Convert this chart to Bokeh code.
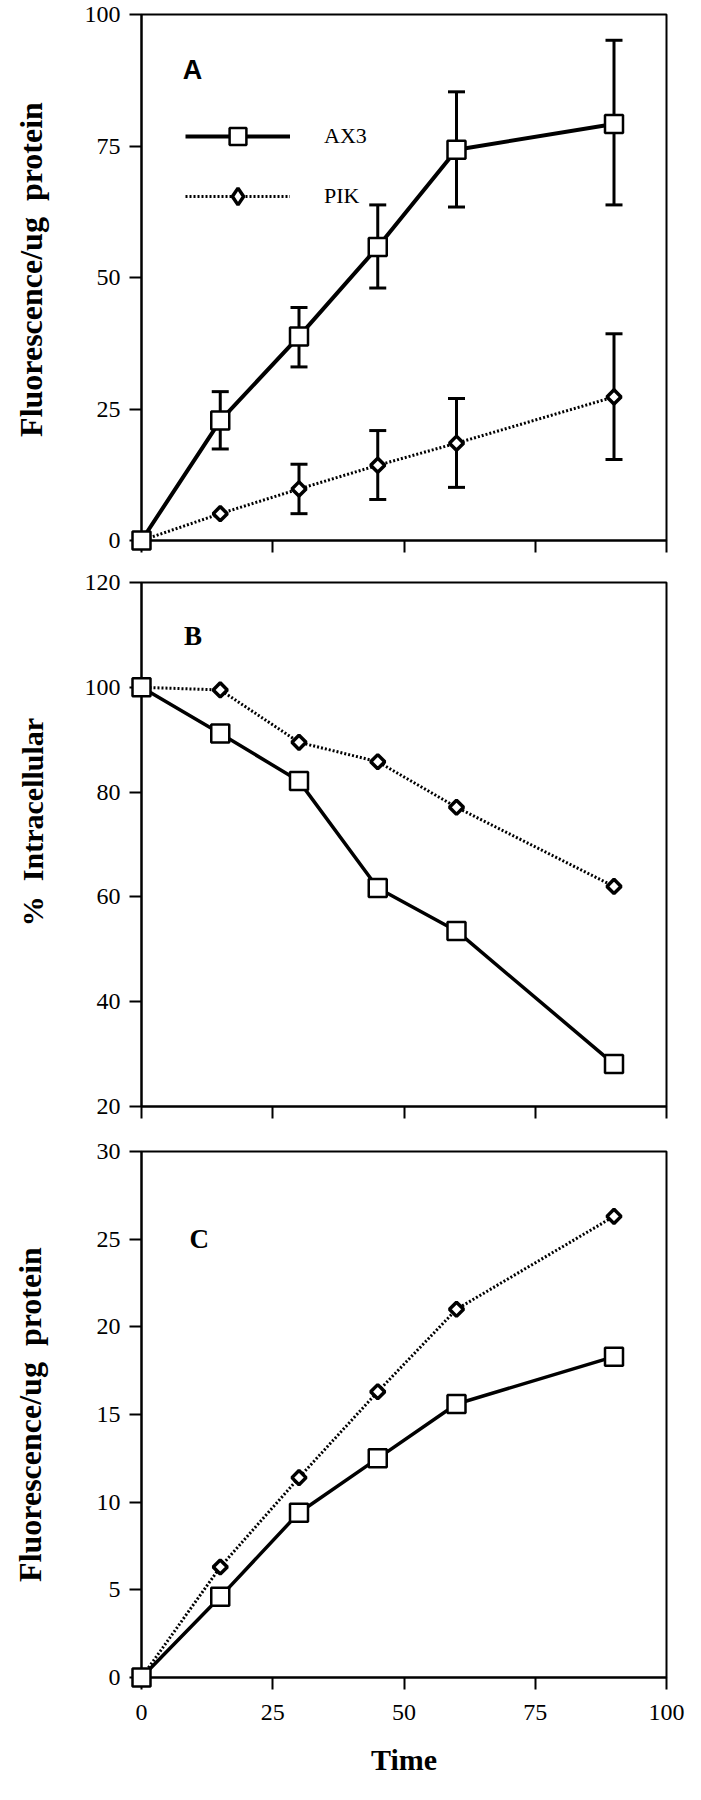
import math
from bokeh.plotting import figure
from bokeh.layouts import column
from bokeh.models import Legend, LegendItem, FixedTicker, Range1d, Label
from bokeh.embed import file_html
from bokeh.resources import INLINE

# ---------------- data ----------------
time = [0, 15, 30, 45, 60, 90]
x_ticks = [0, 25, 50, 75, 100]

# Panel A
a_ax3 = [0, 22.8, 38.8, 55.8, 74.3, 79.2]
a_ax3_lo = [0, 17.4, 33.0, 48.0, 63.4, 63.8]
a_ax3_hi = [0, 28.3, 44.3, 63.8, 85.3, 95.1]
a_pik = [0, 5.1, 9.8, 14.3, 18.5, 27.3]
a_pik_lo = [0, 5.1, 5.1, 7.8, 10.1, 15.4]
a_pik_hi = [0, 5.1, 14.5, 20.9, 27.0, 39.3]
a_yticks = [0, 25, 50, 75, 100]

# Panel B
b_ax3 = [100, 91.2, 82.1, 61.7, 53.5, 28.1]
b_pik = [100, 99.5, 89.5, 85.8, 77.1, 62.0]
b_yticks = [20, 40, 60, 80, 100, 120]

# Panel C
c_ax3 = [0, 4.6, 9.4, 12.5, 15.6, 18.3]
c_pik = [0, 6.3, 11.4, 16.3, 21.0, 26.3]
c_yticks = [0, 5, 10, 15, 20, 25, 30]

SERIF = "Liberation Serif"
SANS = "Liberation Sans"
NB = "\u00a0"


def make_fig(yr, yticks, fh, top, bottom, ylabel, label_size, label_standoff, show_x_labels):
    p = figure(frame_width=525, frame_height=fh,
               x_range=Range1d(0, 100), y_range=Range1d(*yr),
               output_backend="svg", toolbar_location=None,
               min_border_left=141, min_border_right=19,
               min_border_top=top, min_border_bottom=bottom)
    p.grid.visible = False
    p.outline_line_color = "black"
    p.outline_line_width = 2
    p.outline_line_alpha = 1
    p.background_fill_color = "white"
    for ax in (p.xaxis[0], p.yaxis[0]):
        ax.axis_line_width = 2
        ax.axis_line_color = "black"
        ax.major_tick_line_width = 2
        ax.major_tick_line_color = "black"
        ax.major_tick_out = 12
        ax.major_tick_in = 0
        ax.minor_tick_out = 0
        ax.minor_tick_in = 0
        ax.major_label_text_font = SERIF
        ax.major_label_text_font_size = "24px"
        ax.major_label_text_color = "black"
        ax.major_label_standoff = 9
        ax.axis_label_text_font = SERIF
        ax.axis_label_text_font_style = "bold"
        ax.axis_label_text_color = "black"
    p.xaxis.ticker = FixedTicker(ticks=x_ticks)
    p.yaxis.ticker = FixedTicker(ticks=yticks)
    p.yaxis.axis_label = ylabel
    p.yaxis.axis_label_text_font_size = label_size
    p.yaxis.axis_label_standoff = label_standoff
    if not show_x_labels:
        p.xaxis.major_label_overrides = {t: "" for t in x_ticks}
        p.xaxis.major_label_text_font_size = "0px"
        p.xaxis.major_label_standoff = 0
    return p


def draw_series(p, ax3, pik, ax3_width):
    lp = p.line(time, pik, line_color="black", line_width=3, line_dash="2 2", level="overlay")
    mp = p.scatter(time, pik, marker="square", angle=math.pi / 4, size=10,
                   fill_color="white", line_color="black", line_width=3.5, level="overlay")
    la = p.line(time, ax3, line_color="black", line_width=ax3_width, level="overlay")
    ma = p.scatter(time, ax3, marker="square", size=18,
                   fill_color="white", line_color="black", line_width=2.5, level="overlay")
    return la, ma, lp, mp


def draw_errors(p, lo, hi):
    xs = [t for t, l, h in zip(time, lo, hi) if h > l]
    los = [l for l, h in zip(lo, hi) if h > l]
    his = [h for l, h in zip(lo, hi) if h > l]
    p.segment(xs, los, xs, his, line_color="black", line_width=3, level="overlay")
    p.scatter(xs, los, marker="dash", size=17, line_color="black", line_width=3, level="overlay")
    p.scatter(xs, his, marker="dash", size=17, line_color="black", line_width=3, level="overlay")


# ---------------- Panel A ----------------
pa = make_fig((0, 100), a_yticks, 526, 14, 21,
              NB * 2 + "Fluorescence/ug" + NB * 2 + "protein", "32px", 33, False)
draw_errors(pa, a_ax3_lo, a_ax3_hi)
draw_errors(pa, a_pik_lo, a_pik_hi)
la, ma, lp, mp = draw_series(pa, a_ax3, a_pik, 4)
# diamond swatch for the legend only (legend markers are drawn unrotated);
# its single point is NaN so nothing is drawn in the plot itself
nan = float("nan")
leg_diamond = pa.scatter(x=[nan], y=[nan], marker="diamond", size=10,
                         fill_color="white", line_color="black", line_width=3.5)
legend = Legend(items=[LegendItem(label="AX3", renderers=[la, ma]),
                       LegendItem(label="PIK", renderers=[lp, leg_diamond])],
                location=(44, 323), glyph_width=105, glyph_height=42, spacing=18,
                padding=0, margin=0, label_standoff=34,
                label_text_font=SERIF, label_text_font_size="22px",
                label_text_color="black",
                border_line_alpha=0, background_fill_alpha=0)
pa.add_layout(legend)
pa.add_layout(Label(x=9.7, y=89.4, text="A", text_font=SANS, text_font_style="bold",
                    text_font_size="27px", text_align="center", text_baseline="middle",
                    text_color="black"))

# ---------------- Panel B ----------------
pb = make_fig((20, 120), b_yticks, 524, 21, 22,
              NB * 6 + "%" + NB * 2 + "Intracellular", "30px", 33, False)
draw_series(pb, b_ax3, b_pik, 3.5)
pb.add_layout(Label(x=9.8, y=109.7, text="B", text_font=SERIF, text_font_style="bold",
                    text_font_size="27px", text_align="center", text_baseline="middle",
                    text_color="black"))

# ---------------- Panel C ----------------
pc = make_fig((0, 30), c_yticks, 526, 23, 107,
              "Fluorescence/ug" + NB * 2 + "protein", "32px", 46, True)
pc.xaxis.major_label_standoff = 15
pc.xaxis.axis_label = "Time"
pc.xaxis.axis_label_text_font_size = "30px"
pc.xaxis.axis_label_standoff = 20
draw_series(pc, c_ax3, c_pik, 3.5)
pc.add_layout(Label(x=11.0, y=25.0, text="C", text_font=SERIF, text_font_style="bold",
                    text_font_size="27px", text_align="center", text_baseline="middle",
                    text_color="black"))

layout = column(pa, pb, pc, spacing=0)
open("out.html", "w").write(file_html(layout, INLINE))
